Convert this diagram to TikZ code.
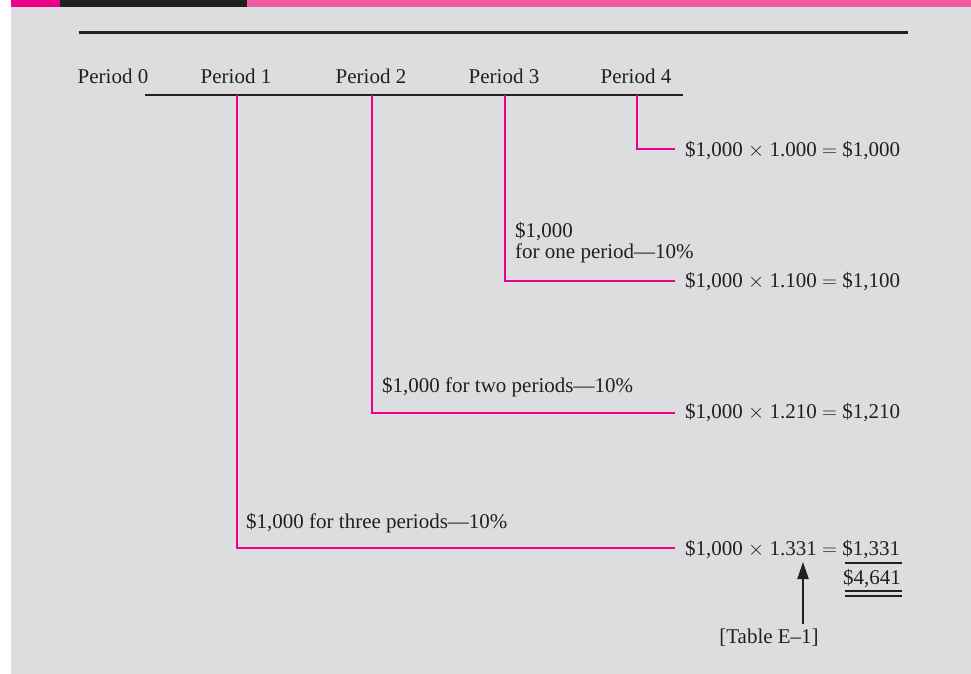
\documentclass[tikz,border=0pt]{standalone}
\usepackage{fontspec}
\setmainfont{Liberation Serif}
\usetikzlibrary{arrows.meta}
\definecolor{bg}{HTML}{DCDDDF}
\definecolor{mag}{HTML}{EC008C}
\definecolor{pinkbar}{HTML}{F05A9F}
\definecolor{ink}{HTML}{231F20}
\newcommand{\tms}{$\times$}
\newcommand{\eqs}{$=$}
\begin{document}
\begin{tikzpicture}[x=1pt,y=-1pt,
  txt/.style={inner sep=0pt, text=ink, font=\fontsize{21}{24}\selectfont},
  tickline/.style={draw=mag, line width=2pt},
  rule/.style={draw=ink, line width=1.3pt}]
\useasboundingbox (0,0) rectangle (971,674);
\fill[bg] (11,7) rectangle (971,674);
\fill[mag] (11,0) rectangle (60,7);
\fill[ink] (60,0) rectangle (247,7);
\fill[pinkbar] (247,0) rectangle (971,7);
\coordinate (r0) at (79,32.5);
\coordinate (r1) at (908,32.5);
\draw[ink, line width=3pt] (r0) -- (r1);
% timeline
\coordinate (tl0) at (145,95);
\coordinate (tl1) at (683,95);
\draw[ink, line width=2.5pt] (tl0) -- (tl1);
% period labels
\node[txt, anchor=base] (p0) at (113,84) {Period 0};
\node[txt, anchor=base] (p1) at (236,84) {Period 1};
\node[txt, anchor=base] (p2) at (371,84) {Period 2};
\node[txt, anchor=base] (p3) at (504,84) {Period 3};
\node[txt, anchor=base] (p4) at (636,84) {Period 4};
% ticks
\coordinate (k1) at (237,95);  \coordinate (c1) at (237,548); \coordinate (e1) at (675,548);
\coordinate (k2) at (372,95);  \coordinate (c2) at (372,413); \coordinate (e2) at (675,413);
\coordinate (k3) at (505,95);  \coordinate (c3) at (505,281); \coordinate (e3) at (675,281);
\coordinate (k4) at (637,95);  \coordinate (c4) at (637,149); \coordinate (e4) at (675,149);
\draw[tickline] (k1) -- (c1) -- (e1);
\draw[tickline] (k2) -- (c2) -- (e2);
\draw[tickline] (k3) -- (c3) -- (e3);
\draw[tickline] (k4) -- (c4) -- (e4);
% equations
\node[txt, anchor=base west] (q4) at (685,157) {\$1,000 \tms{} 1.000 \eqs{} \$1,000};
\node[txt, anchor=base west] (q3) at (685,287) {\$1,000 \tms{} 1.100 \eqs{} \$1,100};
\node[txt, anchor=base west] (q2) at (685,418) {\$1,000 \tms{} 1.210 \eqs{} \$1,210};
\node[txt, anchor=base west] (q1) at (685,555) {\$1,000 \tms{} 1.331 \eqs{} \$1,331};
% labels
\node[txt, anchor=base west] (l3a) at (515,237) {\$1,000};
\node[txt, anchor=base west] (l3b) at (515,258) {for one period—10\%};
\node[txt, anchor=base west] (l2) at (382,392) {\$1,000 for two periods—10\%};
\node[txt, anchor=base west] (l1) at (246,528) {\$1,000 for three periods—10\%};
% total
\coordinate (u0) at (845,563); \coordinate (u1) at (902,563);
\draw[rule] (u0) -- (u1);
\node[txt, anchor=base east] (tot) at (901,584) {\$4,641};
\coordinate (d0) at (845,591); \coordinate (d1) at (902,591);
\coordinate (d2) at (845,596); \coordinate (d3) at (902,596);
\draw[rule] (d0) -- (d1);
\draw[rule] (d2) -- (d3);
% table reference
\node[txt, anchor=base] (tbl) at (769,643) {[Table E–1]};
\coordinate (ab) at (803,624);
\coordinate (at) at (803,562);
\draw[ink, line width=2pt, -{Triangle[length=17pt,width=11pt]}] (ab) -- (at);
\end{tikzpicture}
\end{document}
